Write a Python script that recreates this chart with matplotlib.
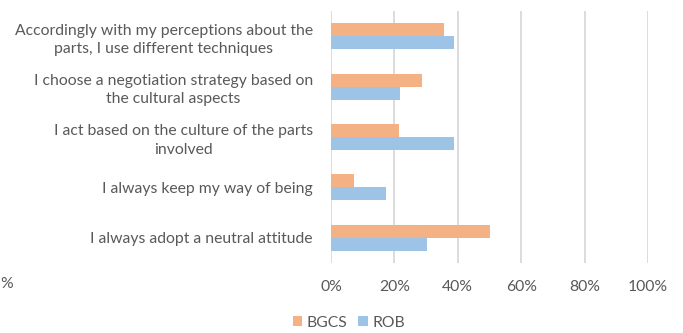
import matplotlib.pyplot as plt
import numpy as np

categories = [
    "Accordingly with my perceptions about the\nparts, I use different techniques",
    "I choose a negotiation strategy based on\nthe cultural aspects",
    "I act based on the culture of the parts\ninvolved",
    "I always keep my way of being",
    "I always adopt a neutral attitude",
]
bgcs = [35.7, 28.6, 21.4, 7.1, 50.0]
rob = [38.9, 21.7, 38.9, 17.4, 30.4]
xticks = [0, 20, 40, 60, 80, 100]
xtick_labels = ["0%", "20%", "40%", "60%", "80%", "100%"]

c_bgcs = "#F4B183"
c_rob = "#9DC3E6"
text_color = "#595959"
grid_color = "#D9D9D9"

plt.rcParams["font.family"] = ["Lato", "DejaVu Sans"]

fig = plt.figure(figsize=(6.83, 3.33), dpi=100)
ax = fig.add_axes([331 / 683, 1 - 263 / 333, 317 / 683, 252 / 333])

n = len(categories)
y = np.arange(n)[::-1].astype(float)
h = 0.257
ax.barh(y + h / 2, bgcs, height=h, color=c_bgcs, label="BGCS", zorder=3)
ax.barh(y - h / 2, rob, height=h, color=c_rob, label="ROB", zorder=3)

ax.set_xlim(0, 100)
ax.set_ylim(-0.5, n - 0.5)
ax.set_xticks(xticks)
ax.set_xticklabels(xtick_labels)
ax.set_yticks(y)
ax.set_yticklabels(categories, ha="right", multialignment="center", linespacing=1.4)

ax.grid(axis="x", color=grid_color, linewidth=1.3, zorder=0)
for s in ax.spines.values():
    s.set_visible(False)
ax.tick_params(axis="both", length=0, colors=text_color, labelsize=11.3)
ax.tick_params(axis="x", pad=12)
ax.tick_params(axis="y", pad=13)

fig.text(0.0, 1 - 284 / 333, "%", color=text_color, fontsize=11.3, ha="left", va="center")

fig.legend(loc="center", bbox_to_anchor=(349 / 683, 1 - 323 / 333), ncol=2,
           frameon=False, fontsize=11.3, handlelength=0.6, handleheight=0.6,
           handletextpad=0.3, columnspacing=0.7, labelcolor=text_color)

fig.savefig("out.png", dpi=100)
